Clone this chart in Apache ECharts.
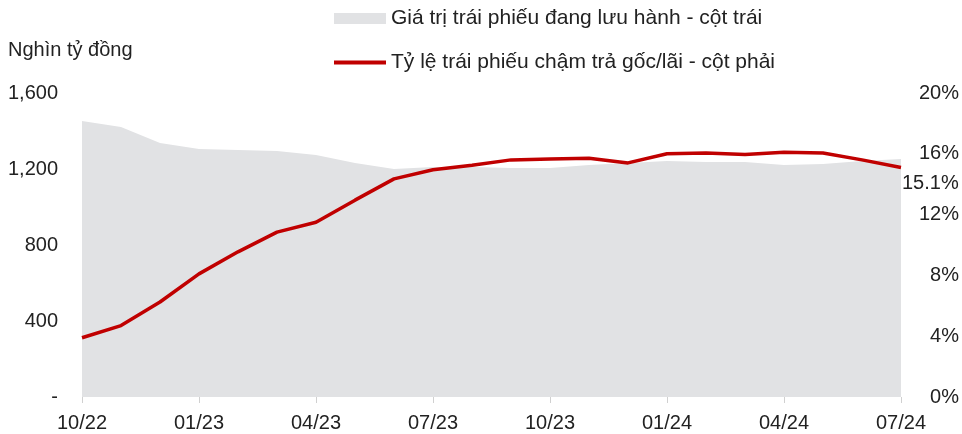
<!DOCTYPE html>
<html>
<head>
<meta charset="utf-8">
<script src="https://cdn.jsdelivr.net/npm/echarts@6/dist/echarts.min.js"></script>
<style>
  html, body { margin: 0; padding: 0; background: #fff; }
  #chart { width: 962px; height: 434px; }
</style>
</head>
<body>
<div id="chart"></div>
<script>
// thang, tu 10/22 den 07/24
var months = ['10/22','11/22','12/22','01/23','02/23','03/23','04/23','05/23','06/23','07/23','08/23','09/23',
              '10/23','11/23','12/23','01/24','02/24','03/24','04/24','05/24','06/24','07/24'];
// gia tri trai phieu dang luu hanh (nghin ty dong) - cot trai
var outstanding = [1453, 1421, 1337, 1305, 1300, 1295, 1274, 1232, 1200, 1210, 1210, 1205,
                   1205, 1221, 1232, 1242, 1237, 1237, 1221, 1226, 1242, 1253];
// ty le cham tra goc/lai (%) - cot phai
var lateRate = [3.9, 4.7, 6.25, 8.1, 9.55, 10.85, 11.5, 12.95, 14.35, 14.95, 15.25, 15.6,
                15.65, 15.7, 15.4, 16.0, 16.05, 15.95, 16.1, 16.05, 15.6, 15.1];
var leftTicks = [0, 400, 800, 1200, 1600];
var rightTicks = [0, 4, 8, 12, 16, 20];

var font = '"Liberation Sans", Arial, sans-serif';
var txt = '#222';
var fs = 20;

var myChart = echarts.init(document.getElementById('chart'));
var option = {
    animation: false,
    textStyle: { fontFamily: font },
    title: {
        text: 'Nghìn tỷ đồng',
        left: 3, top: 35,
        textStyle: { fontSize: fs, fontWeight: 'normal', color: txt, fontFamily: font }
    },
    legend: [
        {
            left: 334, top: 8, padding: 0,
            itemWidth: 52, itemHeight: 11,
            data: [{ name: 'Giá trị trái phiếu đang lưu hành - cột trái', icon: 'rect', itemStyle: { color: '#e1e2e4' } }],
            textStyle: { fontSize: 21, color: txt, fontFamily: font }
        },
        {
            left: 334, top: 52, padding: 0,
            itemWidth: 52, itemHeight: 4,
            data: [{ name: 'Tỷ lệ trái phiếu chậm trả gốc/lãi - cột phải', icon: 'rect', itemStyle: { color: '#c00000' } }],
            textStyle: { fontSize: 21, color: txt, fontFamily: font }
        }
    ],
    grid: { left: 82, right: 61, top: 93, bottom: 37, containLabel: false },
    xAxis: {
        type: 'category',
        boundaryGap: false,
        data: months,
        axisLine: { show: false },
        axisTick: { show: true, interval: 2, length: 6, lineStyle: { color: '#d0d0d0' } },
        axisLabel: { interval: 2, fontSize: fs, color: txt, margin: 16, fontFamily: font }
    },
    yAxis: [
        {
            type: 'value', min: leftTicks[0], max: leftTicks[leftTicks.length - 1], interval: 400,
            splitLine: { show: false },
            axisLine: { show: false }, axisTick: { show: false },
            axisLabel: {
                fontSize: fs, color: txt, margin: 24, fontFamily: font,
                formatter: function (v) { return v === 0 ? '-' : echarts.format.addCommas(v); }
            }
        },
        {
            type: 'value', min: rightTicks[0], max: rightTicks[rightTicks.length - 1], interval: 4,
            position: 'right',
            splitLine: { show: false },
            axisLine: { show: false }, axisTick: { show: false },
            axisLabel: { fontSize: fs, color: txt, margin: 58, align: 'right', fontFamily: font, formatter: '{value}%' }
        }
    ],
    series: [
        {
            name: 'Giá trị trái phiếu đang lưu hành - cột trái',
            type: 'line',
            yAxisIndex: 0,
            data: outstanding,
            symbol: 'none',
            lineStyle: { width: 0 },
            itemStyle: { color: '#e1e2e4' },
            areaStyle: { color: '#e1e2e4', opacity: 1 },
            z: 1
        },
        {
            name: 'Tỷ lệ trái phiếu chậm trả gốc/lãi - cột phải',
            type: 'line',
            yAxisIndex: 1,
            data: lateRate,
            symbol: 'none',
            lineStyle: { width: 3.5, color: '#c00000' },
            itemStyle: { color: '#c00000' },
            endLabel: {
                show: true, distance: 0, offset: [1, 16],
                fontSize: fs, color: txt, fontFamily: font,
                formatter: function (p) { return p.value.toFixed(1) + '%'; }
            },
            z: 3
        }
    ]
};
myChart.setOption(option);
</script>
</body>
</html>
